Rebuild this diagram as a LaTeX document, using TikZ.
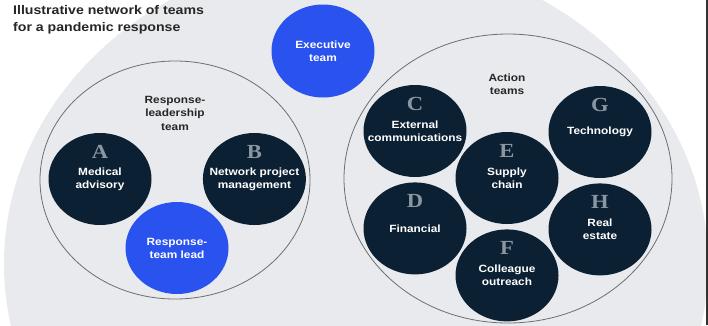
\documentclass[tikz,border=0pt]{standalone}
\usepackage{fontspec}
\setmainfont{Liberation Sans}[FakeStretch=1.13]
\newfontfamily\letterfont{Liberation Serif}[FakeStretch=1.13]
\usepackage{tikz}
\usetikzlibrary{positioning, shapes.geometric}
\definecolor{navy}{HTML}{0C2033}
\definecolor{electric}{HTML}{2A52EE}
\definecolor{netgray}{HTML}{E8EAED}
\definecolor{ringgray}{HTML}{6E6E6E}
\definecolor{lettergray}{HTML}{8A96A1}
\definecolor{inkdark}{HTML}{262626}

\begin{document}
\begin{tikzpicture}[
  x=1pt, y=-1pt,
  team/.style={ellipse, fill=navy, minimum width=103pt, minimum height=92pt,
               inner sep=-15pt, text=white, align=center,
               font=\fontsize{10.5}{13}\selectfont\bfseries},
  lead/.style={team, fill=electric},
  group/.style={ellipse, draw=ringgray, line width=0.8pt, inner sep=0pt},
  grouptitle/.style={text=inkdark, align=center, inner sep=0pt,
                     font=\fontsize{10.5}{13.5}\selectfont\bfseries},
  letter/.style={text=lettergray, inner sep=0pt,
                 font=\letterfont\fontsize{20}{20}\selectfont\bfseries}
]
  \useasboundingbox (0,0) rectangle (708,325);
  \clip (0,0) rectangle (708,325);

  % Network background
  \node[ellipse, fill=netgray, minimum width=704pt, minimum height=622pt]
    (network) at (356,264) {};
  \fill[black!80] (705.5,0) rectangle (708,325);

  % Title
  \node[anchor=north west, align=left, inner sep=0pt, text=inkdark,
        font=\fontsize{12.5}{16.5}\selectfont\bfseries]
    (title) at (13,5.5) {Illustrative network of teams\\for a pandemic response};

  % Executive team
  \node[lead, minimum height=93pt] (exec) at (323,51) {Executive\\team};

  % Response-leadership team
  \node[group, minimum width=270pt, minimum height=238pt] (leadership) at (175,180) {};
  \node[grouptitle] (leadtitle) at (175,113) {Response-\\leadership\\team};

  \node[team] (medical) at (100,179) {Medical\\advisory};
  \node[team, right=51pt of medical] (netpm) {Network project\\management};
  \node[lead] (teamlead) at (177,248) {Response-\\team lead};

  \node[letter] (la) at ([yshift=27pt]medical.center) {A};
  \node[letter] (lb) at ([yshift=27pt]netpm.center) {B};

  % Action teams
  \node[group, minimum width=328pt, minimum height=289pt] (action) at (508,178.5) {};
  \node[grouptitle] (actiontitle) at (507,84) {Action\\teams};

  \node[team] (extcom) at (415,131) {External\\communications};
  \node[team, below=5pt of extcom] (financial) {Financial};
  \node[team] (supply) at (507,178) {Supply\\chain};
  \node[team, below=5pt of supply] (outreach) {Colleague\\outreach};
  \node[team] (tech) at (600,132) {Technology};
  \node[team, below=5pt of tech] (estate) {Real\\estate};

  \node[letter] (lc) at ([yshift=27pt]extcom.center) {C};
  \node[letter] (ld) at ([yshift=27pt]financial.center) {D};
  \node[letter] (le) at ([yshift=27pt]supply.center) {E};
  \node[letter] (lf) at ([yshift=27pt]outreach.center) {F};
  \node[letter] (lg) at ([yshift=27pt]tech.center) {G};
  \node[letter] (lh) at ([yshift=27pt]estate.center) {H};
\end{tikzpicture}
\end{document}
